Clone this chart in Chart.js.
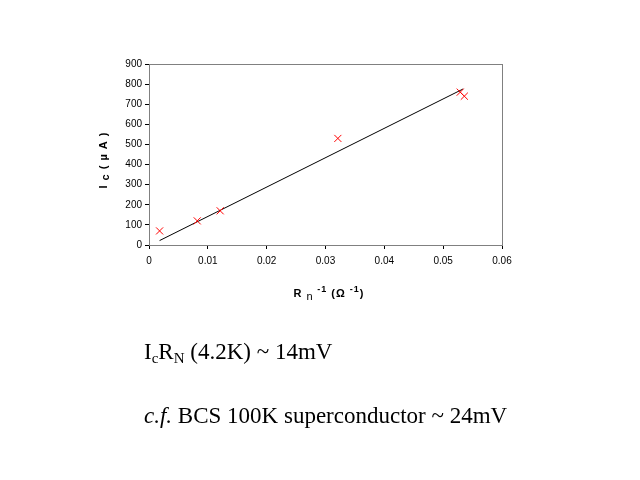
<!DOCTYPE html>
<html>
<head>
<meta charset="utf-8">
<script src="https://cdn.jsdelivr.net/npm/chart.js@4.4.0/dist/chart.umd.min.js"></script>
<style>
  body { margin: 0; background: #fff; }
  #wrap { position: relative; width: 640px; height: 480px; overflow: hidden; }
  #chart { position: absolute; left: 0; top: 0; }
  .note { position: absolute; left: 144px; font-family: "Liberation Serif", "Times New Roman", serif;
          font-size: 23px; line-height: 23px; color: #000; white-space: nowrap; }
  .note .lo { font-size: 15px; position: relative; top: 4px; }
</style>
</head>
<body>
<div id="wrap">
  <canvas id="chart" width="640" height="480"></canvas>
  <div class="note" style="top:340px">I<span class="lo">c</span>R<span class="lo">N</span> (4.2K) ~ 14mV</div>
  <div class="note" style="top:404px"><i>c.f.</i> BCS 100K superconductor ~ 24mV</div>
</div>
<script>
// measured points: inverse normal resistance (1/ohm) vs critical current (uA)
var invRn = [0.0018, 0.0082, 0.0121, 0.0321, 0.0529, 0.0536];
var icValues = [70, 120, 170, 530, 760, 740];

// trend line ends
var fitX = [0.0018, 0.0534];
var fitY = [22, 776];

var xTicks = [0, 0.01, 0.02, 0.03, 0.04, 0.05, 0.06];
var yTicks = [0, 100, 200, 300, 400, 500, 600, 700, 800, 900];

var tickFont = { family: 'Liberation Sans, Arial, sans-serif', size: 10 };

function pts(xs, ys) {
	return xs.map(function(x, i){ return { x: x, y: ys[i] }; });
}

// draw a string made of pieces, some raised or lowered
function drawRuns(ctx, runs, cx, baseY) {
	var total = 0;
	runs.forEach(function(r){ ctx.font = r.font; total += ctx.measureText(r.t).width; });
	var x = cx - total / 2;
	runs.forEach(function(r){
		ctx.font = r.font;
		ctx.fillText(r.t, x, baseY + (r.dy || 0));
		x += ctx.measureText(r.t).width;
	});
}

var B = 'bold 11px "Liberation Sans", Arial, sans-serif';
var S = 'bold 9px "Liberation Sans", Arial, sans-serif';
var N = '11px "Liberation Sans", Arial, sans-serif';

var frame = {
	id: 'frame',
	beforeDatasetsDraw: function(chart){
		var a = chart.chartArea, ctx = chart.ctx;
		ctx.save();
		ctx.strokeStyle = '#808080';
		ctx.lineWidth = 1;
		ctx.strokeRect(a.left + 0.5, a.top + 0.5, a.right - a.left, a.bottom - a.top);
		ctx.restore();
	},
	afterDraw: function(chart){
		var ctx = chart.ctx;
		ctx.save();
		ctx.fillStyle = '#000';
		ctx.textBaseline = 'alphabetic';
		ctx.letterSpacing = '1px';
		drawRuns(ctx, [
			{ t: 'R ', font: B },
			{ t: 'n', font: N, dy: 3 },
			{ t: ' -1', font: S, dy: -5 },
			{ t: ' (Ω ', font: B },
			{ t: '-1', font: S, dy: -5 },
			{ t: ')', font: B }
		], 329, 297);
		ctx.translate(107, 160);
		ctx.rotate(-Math.PI / 2);
		drawRuns(ctx, [
			{ t: 'I ', font: B },
			{ t: 'c', font: B, dy: 2 },
			{ t: ' ( µ A )', font: B }
		], 0, 0);
		ctx.restore();
	}
};

new Chart(document.getElementById('chart'), {
	type: 'scatter',
	data: {
		datasets: [
			{
				data: pts(invRn, icValues),
				pointStyle: 'crossRot',
				pointRadius: 5,
				borderColor: '#ff0000',
				backgroundColor: '#ff0000',
				borderWidth: 1
			},
			{
				data: pts(fitX, fitY),
				showLine: true,
				pointRadius: 0,
				borderColor: '#000',
				borderWidth: 1
			}
		]
	},
	options: {
		responsive: false,
		animation: false,
		layout: { padding: { left: 0, right: 138, top: 64, bottom: 215 } },
		plugins: { legend: { display: false }, tooltip: { enabled: false } },
		scales: {
			x: {
				type: 'linear', min: 0, max: 0.06,
				afterBuildTicks: function(s){ s.ticks = xTicks.map(function(v){ return { value: v }; }); },
				afterFit: function(s){ s.height = 20; },
				ticks: {
					color: '#000', font: tickFont, padding: 6, maxRotation: 0,
					callback: function(v){ return String(Number(v.toFixed(2))); }
				},
				grid: { drawOnChartArea: false, drawTicks: true, tickLength: 4, color: '#000' },
				border: { color: '#000' }
			},
			y: {
				min: 0, max: 900,
				afterBuildTicks: function(s){ s.ticks = yTicks.map(function(v){ return { value: v }; }); },
				afterFit: function(s){ s.width = 149; },
				ticks: { color: '#000', font: tickFont, padding: 3 },
				grid: { drawOnChartArea: false, drawTicks: true, tickLength: 4, color: '#000' },
				border: { color: '#000' }
			}
		}
	},
	plugins: [frame]
});
</script>
</body>
</html>
